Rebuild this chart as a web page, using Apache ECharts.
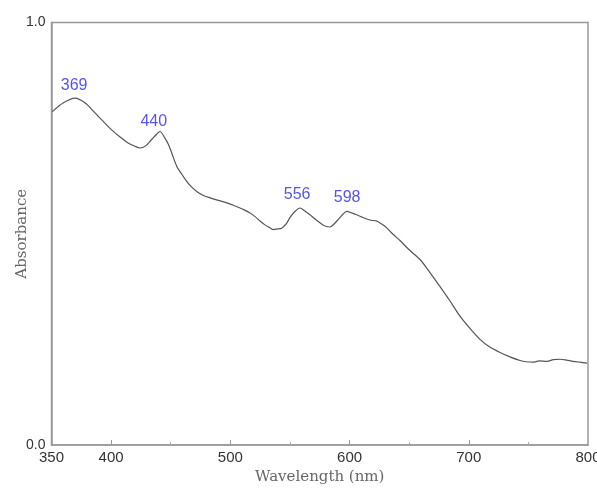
<!DOCTYPE html>
<html>
<head>
<meta charset="utf-8">
<script src="https://cdn.jsdelivr.net/npm/echarts@6/dist/echarts.min.js"></script>
<style>html,body{margin:0;padding:0;background:#fff}#c{width:597px;height:488px}</style>
</head>
<body>
<div id="c"></div>
<script>
var wavelength = [350.7, 360, 369.7, 378, 386.5, 393, 400.5, 407, 414.2, 420, 424.2, 429, 434, 438, 441, 445,
  448, 451, 455, 459, 463.4, 467, 471.8, 477, 483, 490, 497, 503, 508.1, 512, 516.5, 521, 524.9, 529, 533.3, 536, 539,
  543, 547, 550, 554, 558.4, 562, 566.8, 571, 575.2, 579, 583.6, 587, 590.6, 594, 597.6, 602, 606, 610, 614.4, 618, 622.8,
  627, 631.2, 636, 642.3, 650, 659.1, 667, 675.9, 684, 692.6, 701, 709.4, 717, 726.2, 735, 743, 748, 753.9, 759, 765.6,
  771, 776.5, 782, 787.4, 793, 799.2];
var absorbance = [0.789, 0.810, 0.821, 0.810, 0.786, 0.767, 0.746, 0.730, 0.715, 0.707, 0.703, 0.708, 0.723, 0.735, 0.742, 0.727,
  0.712, 0.690, 0.660, 0.642, 0.624, 0.612, 0.600, 0.591, 0.585, 0.579, 0.573, 0.567, 0.561, 0.556, 0.549, 0.540, 0.530, 0.521, 0.514, 0.510, 0.511,
  0.513, 0.524, 0.538, 0.552, 0.561, 0.555, 0.545, 0.535, 0.526, 0.519, 0.516, 0.523, 0.534, 0.545, 0.553, 0.549, 0.545, 0.540, 0.535, 0.532, 0.530,
  0.523, 0.514, 0.500, 0.484, 0.462, 0.439, 0.410, 0.375, 0.342, 0.305, 0.276, 0.250, 0.233, 0.219, 0.208, 0.200, 0.197, 0.196, 0.199, 0.198,
  0.202, 0.203, 0.201, 0.198, 0.196, 0.194];
var peakWl = [369, 440, 556, 598];
var peakAbs = [0.821, 0.742, 0.561, 0.553];
var peakLabels = ['369', '440', '556', '598'];
var xLabelValues = [350, 400, 500, 600, 700, 800];
var majorTicks = [400, 500, 600, 700];
var minorTicks = [450, 550, 650, 750];
var yLabelValues = [0, 1];

var curve = wavelength.map(function (w, i) { return [w, absorbance[i]]; });
var offsets = [[0, -2], [-5, 1], [0, -2], [0, -3]];
var peaks = peakWl.map(function (w, i) {
  return { value: [w, peakAbs[i]], label: { formatter: peakLabels[i], offset: offsets[i] } };
});

var chart = echarts.init(document.getElementById('c'));
chart.setOption({
  animation: false,
  backgroundColor: '#fff',
  grid: { left: 51.5, right: 9, top: 22.5, bottom: 43, containLabel: false, outerBoundsMode: 'none',
    show: true, borderColor: '#999', borderWidth: 1.5, backgroundColor: 'transparent' },
  xAxis: [{
    type: 'value', min: 350, max: 800,
    name: 'Wavelength (nm)', nameLocation: 'middle', nameGap: 25, nameMoveOverlap: false,
    nameTextStyle: { fontFamily: 'DejaVu Serif', fontSize: 15, color: '#666' },
    axisLine: { show: true, lineStyle: { color: '#999', width: 1.5 } },
    axisTick: { show: true, inside: true, length: 5, customValues: majorTicks, lineStyle: { color: '#999' } },
    axisLabel: { customValues: xLabelValues, fontFamily: 'Liberation Sans', fontSize: 15, color: '#333', margin: 5 },
    splitLine: { show: false }
  }, {
    type: 'value', min: 350, max: 800, position: 'bottom',
    axisLine: { show: false },
    axisTick: { show: true, inside: true, length: 3, customValues: minorTicks, lineStyle: { color: '#aaa' } },
    axisLabel: { show: false },
    splitLine: { show: false }
  }],
  yAxis: {
    type: 'value', min: 0, max: 1,
    name: 'Absorbance', nameLocation: 'middle', nameGap: 22, nameRotate: 90, nameMoveOverlap: false,
    nameTextStyle: { fontFamily: 'DejaVu Serif', fontSize: 15, color: '#666' },
    axisLine: { show: true, lineStyle: { color: '#999', width: 1.5 } },
    axisTick: { show: false },
    axisLabel: { customValues: yLabelValues, formatter: function (v) { return v.toFixed(1); }, fontFamily: 'Liberation Sans', fontSize: 14, color: '#333', margin: 6 },
    splitLine: { show: false }
  },
  series: [{
    type: 'line', data: curve, showSymbol: false, smooth: 0.3,
    lineStyle: { color: '#555', width: 1.2 }
  }, {
    type: 'scatter', data: peaks, symbolSize: 0,
    label: { show: true, position: 'top', distance: 3, color: '#2b2be0', fontFamily: 'Liberation Sans', fontSize: 16 }
  }]
});
</script>
</body>
</html>
